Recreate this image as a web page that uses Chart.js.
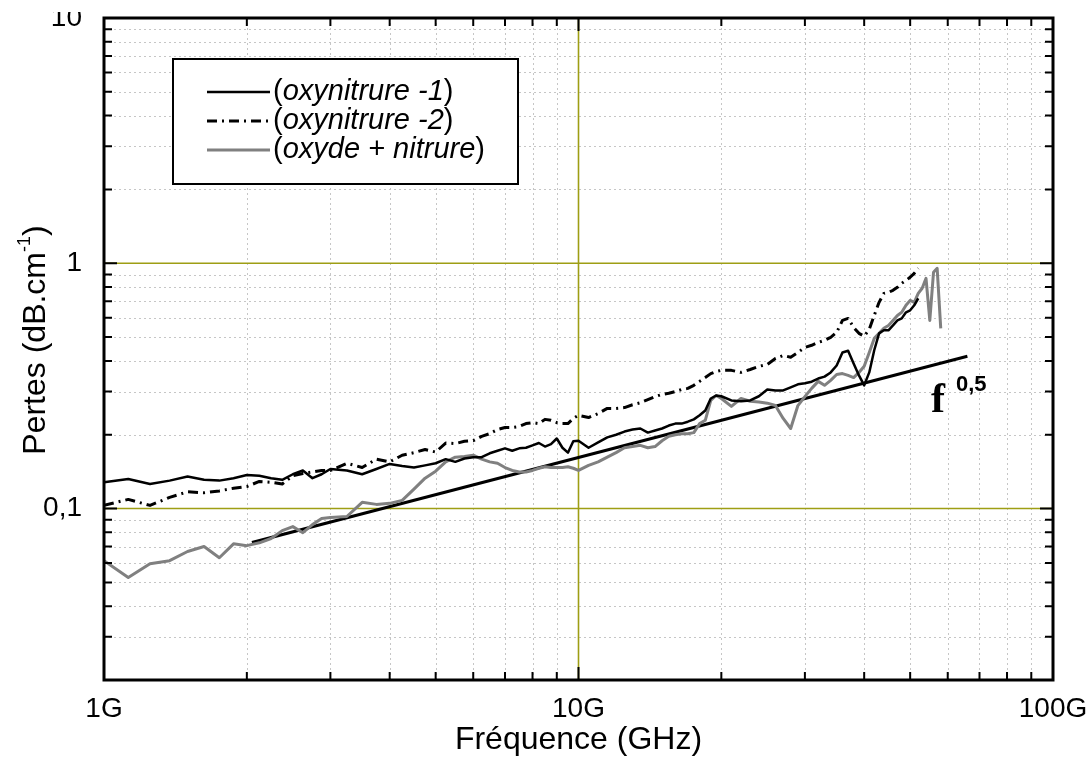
<!DOCTYPE html>
<html>
<head>
<meta charset="utf-8">
<script src="https://cdn.jsdelivr.net/npm/chart.js@4.4.0/dist/chart.umd.min.js"></script>
<style>
  html, body { margin: 0; padding: 0; background: #fff; }
  #wrap { width: 1091px; height: 759px; }
</style>
</head>
<body>
<div id="wrap"><canvas id="pertes" width="1091" height="759"></canvas></div>
<script>
// ---------------------------------------------------------
// Données (fréquence en GHz, pertes en dB/cm)
// ---------------------------------------------------------
const freqGHz = [
  1, 1.125, 1.25, 1.375, 1.5, 1.625, 1.75, 1.875, 2, 2.125, 2.25, 2.375, 2.5, 2.625, 2.75, 2.875, 3,
  3.25, 3.5, 3.75, 4, 4.25, 4.5, 4.75, 5,
  5.25, 5.5, 5.75, 6, 6.25, 6.5, 6.75, 7, 7.25, 7.5, 7.75, 8, 8.25, 8.5, 8.75, 9, 9.25, 9.5, 9.75, 10,
  10.5, 11, 11.5, 12, 12.5, 13, 13.5, 14, 14.5, 15, 15.5, 16, 16.5, 17, 17.5, 18, 18.5, 19, 19.5, 20,
  21, 22, 23, 24, 25, 26, 27, 28, 29, 30, 31, 32, 33, 34, 35, 36, 37, 38, 39, 40,
  41, 42, 43, 44, 45, 46, 47, 48, 49, 50, 51, 52, 53, 54, 55, 56, 57, 58
];

const lossOxynitrure1 = [
  0.128, 0.132, 0.126, 0.130, 0.135, 0.131, 0.130, 0.133, 0.137, 0.136, 0.133, 0.131, 0.138, 0.143, 0.133, 0.138, 0.145,
  0.143, 0.138, 0.145, 0.152, 0.149, 0.147, 0.150, 0.153,
  0.159, 0.155, 0.160, 0.162, 0.162, 0.168, 0.172, 0.176, 0.172, 0.176, 0.177, 0.181, 0.185, 0.179, 0.183, 0.193, 0.177, 0.169, 0.188, 0.189,
  0.177, 0.186, 0.195, 0.200, 0.206, 0.210, 0.212, 0.204, 0.208, 0.212, 0.218, 0.222, 0.222, 0.226, 0.231, 0.240, 0.251, 0.281, 0.289, 0.287,
  0.276, 0.274, 0.276, 0.287, 0.306, 0.303, 0.303, 0.312, 0.321, 0.324, 0.329, 0.339, 0.345, 0.359, 0.383, 0.433, 0.440, 0.390, 0.349, 0.318,
  0.359, 0.442, 0.518, 0.533, 0.533, 0.558, 0.585, 0.596, 0.631, 0.643, 0.674, 0.720, null, null, null, null, null, null
];

const lossOxynitrure2 = [
  0.103, 0.109, 0.103, 0.111, 0.117, 0.116, 0.118, 0.121, 0.123, 0.129, 0.128, 0.126, 0.136, 0.139, 0.141, 0.143, 0.143,
  0.153, 0.147, 0.159, 0.155, 0.165, 0.169, 0.174, 0.170,
  0.185, 0.184, 0.188, 0.189, 0.197, 0.202, 0.210, 0.214, 0.214, 0.216, 0.222, 0.224, 0.222, 0.231, 0.229, 0.224, 0.222, 0.222, 0.233, 0.240,
  0.235, 0.244, 0.256, 0.256, 0.258, 0.265, 0.270, 0.278, 0.286, 0.292, 0.295, 0.300, 0.306, 0.309, 0.318, 0.330, 0.342, 0.355, 0.362, 0.366,
  0.366, 0.359, 0.369, 0.380, 0.387, 0.409, 0.421, 0.414, 0.433, 0.454, 0.463, 0.476, 0.485, 0.499, 0.523, 0.585, 0.596, 0.548, 0.518, 0.504,
  0.538, 0.613, 0.693, 0.754, 0.761, 0.776, 0.798, 0.829, 0.852, 0.877, 0.910, 0.954, null, null, null, null, null, null
];

const lossOxydeNitrure = [
  0.0613, 0.0524, 0.0596, 0.0613, 0.0668, 0.0700, 0.0630, 0.0718, 0.0706, 0.0725, 0.0755, 0.0813, 0.0844, 0.0797, 0.0860, 0.0910, 0.0920,
  0.0928, 0.106, 0.104, 0.105, 0.108, 0.120, 0.133, 0.142,
  0.155, 0.162, 0.163, 0.165, 0.159, 0.155, 0.153, 0.147, 0.143, 0.141, 0.141, 0.143, 0.146, 0.148, 0.147, 0.147, 0.147, 0.148, 0.146, 0.143,
  0.150, 0.155, 0.162, 0.169, 0.177, 0.179, 0.181, 0.177, 0.179, 0.189, 0.197, 0.200, 0.202, 0.202, 0.204, 0.222, 0.229, 0.276, 0.289, 0.281,
  0.261, 0.281, 0.274, 0.272, 0.269, 0.263, 0.233, 0.212, 0.263, 0.286, 0.309, 0.330, 0.318, 0.333, 0.352, 0.355, 0.349, 0.342, 0.359, 0.380,
  0.433, 0.494, 0.518, 0.543, 0.558, 0.585, 0.613, 0.631, 0.674, 0.706, 0.693, 0.754, 0.791, 0.868, 0.585, 0.919, 0.954, 0.543
];

// droite de pente 0,5 (deux extrémités)
const fitFreqGHz = [2.05, 66];
const fitLoss = [0.0727, 0.418];

const seriesNames = ['oxynitrure -1', 'oxynitrure -2', 'oxyde + nitrure'];

const xTickValues = [1, 10, 100];
const xTickLabels = ['1G', '10G', '100G'];
const xMinorTicks = [2, 3, 4, 5, 6, 7, 8, 9, 20, 30, 40, 50, 60, 70, 80, 90];

const yTickValues = [0.1, 1, 10];
const yTickLabels = ['0,1', '1', '10'];
const yMinorTicks = [0.02, 0.03, 0.04, 0.05, 0.06, 0.07, 0.08, 0.09,
                     0.2, 0.3, 0.4, 0.5, 0.6, 0.7, 0.8, 0.9,
                     2, 3, 4, 5, 6, 7, 8, 9];

const SANS = '"Liberation Sans", Arial, sans-serif';
const OLIVE = '#9e9e14';

function toPoints(xs, ys) {
    return xs.map((x, i) => ({ x: x, y: ys[i] }));
}

// =========================================================
// Plugin : grille, cadre, graduations, légende, titres
// =========================================================
const decorPlugin = {
    id: 'decor',
    beforeDatasetsDraw(chart) {
        const { ctx, chartArea: a, scales: { x, y } } = chart;
        ctx.save();
        ctx.lineWidth = 1;

        // grille secondaire pointillée
        ctx.strokeStyle = '#c6c6c6';
        ctx.setLineDash([2, 3]);
        xMinorTicks.forEach(v => {
            const px = Math.round(x.getPixelForValue(v)) + 0.5;
            ctx.beginPath(); ctx.moveTo(px, a.top); ctx.lineTo(px, a.bottom); ctx.stroke();
        });
        yMinorTicks.forEach(v => {
            const py = Math.round(y.getPixelForValue(v)) + 0.5;
            ctx.beginPath(); ctx.moveTo(a.left, py); ctx.lineTo(a.right, py); ctx.stroke();
        });

        // grille principale (olive)
        ctx.setLineDash([]);
        ctx.strokeStyle = OLIVE;
        ctx.lineWidth = 1.6;
        xTickValues.forEach(v => {
            const px = x.getPixelForValue(v);
            ctx.beginPath(); ctx.moveTo(px, a.top); ctx.lineTo(px, a.bottom); ctx.stroke();
        });
        yTickValues.forEach(v => {
            const py = y.getPixelForValue(v);
            ctx.beginPath(); ctx.moveTo(a.left, py); ctx.lineTo(a.right, py); ctx.stroke();
        });
        ctx.restore();
    },
    afterDatasetsDraw(chart) {
        const { ctx, chartArea: a, scales: { x, y } } = chart;
        ctx.save();

        // graduations vers l'intérieur, sur les quatre côtés
        ctx.strokeStyle = '#000';
        ctx.lineWidth = 2;
        const tickX = (v, len) => {
            const px = x.getPixelForValue(v);
            ctx.beginPath();
            ctx.moveTo(px, a.bottom); ctx.lineTo(px, a.bottom - len);
            ctx.moveTo(px, a.top); ctx.lineTo(px, a.top + len);
            ctx.stroke();
        };
        const tickY = (v, len) => {
            const py = y.getPixelForValue(v);
            ctx.beginPath();
            ctx.moveTo(a.left, py); ctx.lineTo(a.left + len, py);
            ctx.moveTo(a.right, py); ctx.lineTo(a.right - len, py);
            ctx.stroke();
        };
        xMinorTicks.forEach(v => tickX(v, 8));
        xTickValues.forEach(v => tickX(v, 13));
        yMinorTicks.forEach(v => tickY(v, 8));
        yTickValues.forEach(v => tickY(v, 13));

        // cadre
        ctx.lineWidth = 3;
        ctx.strokeRect(a.left, a.top, a.right - a.left, a.bottom - a.top);

        // légende
        const box = { left: 173, top: 59, w: 345, h: 125 };
        ctx.fillStyle = '#fff';
        ctx.fillRect(box.left, box.top, box.w, box.h);
        ctx.lineWidth = 2;
        ctx.strokeRect(box.left, box.top, box.w, box.h);
        ctx.textBaseline = 'middle';
        seriesNames.forEach((name, i) => {
            const ds = chart.data.datasets[i];
            const ry = 92 + i * 29;
            ctx.strokeStyle = ds.borderColor;
            ctx.lineWidth = ds.borderWidth;
            ctx.setLineDash(ds.borderDash || []);
            ctx.beginPath(); ctx.moveTo(207, ry); ctx.lineTo(270, ry); ctx.stroke();
            ctx.setLineDash([]);
            ctx.fillStyle = '#000';
            let tx = 273;
            ctx.font = '29px ' + SANS;
            ctx.fillText('(', tx, ry); tx += ctx.measureText('(').width;
            ctx.font = 'italic 29px ' + SANS;
            ctx.fillText(name, tx, ry); tx += ctx.measureText(name).width;
            ctx.font = '29px ' + SANS;
            ctx.fillText(')', tx, ry);
        });

        // annotation f^0,5
        ctx.textBaseline = 'alphabetic';
        ctx.fillStyle = '#000';
        ctx.font = 'bold 42px "Liberation Serif", "Times New Roman", serif';
        ctx.fillText('f', 931, 412);
        ctx.font = 'bold 22px ' + SANS;
        ctx.fillText('0,5', 956, 391);

        // titre de l'axe X
        ctx.font = '32px ' + SANS;
        ctx.textAlign = 'center';
        ctx.fillText('Fréquence (GHz)', (a.left + a.right) / 2, 749);

        // titre de l'axe Y (avec exposant)
        ctx.translate(45, 340);
        ctx.rotate(-Math.PI / 2);
        ctx.textAlign = 'left';
        const main = 'Pertes (dB.cm', sup = '-1', end = ')';
        ctx.font = '32px ' + SANS;
        const wMain = ctx.measureText(main).width, wEnd = ctx.measureText(end).width;
        ctx.font = '18px ' + SANS;
        const wSup = ctx.measureText(sup).width;
        let sx = -(wMain + wSup + wEnd) / 2;
        ctx.font = '32px ' + SANS;
        ctx.fillText(main, sx, 0); sx += wMain;
        ctx.font = '18px ' + SANS;
        ctx.fillText(sup, sx, -15); sx += wSup;
        ctx.font = '32px ' + SANS;
        ctx.fillText(end, sx, 0);

        ctx.restore();
    },
    afterDraw(chart) {
        // dans la figure d'origine le haut de l'étiquette "10" est rogné
        chart.ctx.save();
        chart.ctx.fillStyle = '#fff';
        chart.ctx.fillRect(0, 0, chart.chartArea.left - 4, 12);
        chart.ctx.restore();
    }
};

const chart = new Chart(document.getElementById('pertes'), {
    type: 'line',
    data: {
        datasets: [
            { label: seriesNames[0], data: toPoints(freqGHz, lossOxynitrure1), borderColor: '#000', borderWidth: 2.5 },
            { label: seriesNames[1], data: toPoints(freqGHz, lossOxynitrure2), borderColor: '#000', borderWidth: 3, borderDash: [10, 5, 2, 5] },
            { label: seriesNames[2], data: toPoints(freqGHz, lossOxydeNitrure), borderColor: '#808080', borderWidth: 3 },
            { label: 'f^0,5', data: toPoints(fitFreqGHz, fitLoss), borderColor: '#000', borderWidth: 3 }
        ]
    },
    options: {
        responsive: false,
        animation: false,
        devicePixelRatio: 1,
        layout: { padding: { top: 18, right: 38, left: 0, bottom: 0 } },
        elements: {
            point: { radius: 0 },
            line: { tension: 0, borderJoinStyle: 'round', fill: false }
        },
        plugins: { legend: { display: false }, tooltip: { enabled: false } },
        scales: {
            x: {
                type: 'logarithmic',
                min: 1, max: 100,
                // taille fixe : la zone de tracé doit tomber sur le cadre de la figure
                afterFit: s => { s.height = 79; s.paddingLeft = 0; s.paddingRight = 0; },
                afterBuildTicks: s => { s.ticks = xTickValues.map(v => ({ value: v })); },
                grid: { display: false },
                border: { display: false },
                ticks: {
                    autoSkip: false, maxRotation: 0, padding: 4, color: '#000',
                    font: { family: SANS, size: 28 },
                    callback: v => { const i = xTickValues.indexOf(v); return i >= 0 ? xTickLabels[i] : ''; }
                }
            },
            y: {
                type: 'logarithmic',
                min: 0.02, max: 10,
                afterFit: s => { s.width = 104; s.paddingTop = 0; s.paddingBottom = 0; },
                afterBuildTicks: s => { s.ticks = yTickValues.map(v => ({ value: v })); },
                grid: { display: false },
                border: { display: false },
                ticks: {
                    autoSkip: false, padding: 14, color: '#000',
                    font: { family: SANS, size: 28 },
                    callback: v => { const i = yTickValues.indexOf(v); return i >= 0 ? yTickLabels[i] : ''; }
                }
            }
        }
    },
    plugins: [decorPlugin]
});
</script>
</body>
</html>
